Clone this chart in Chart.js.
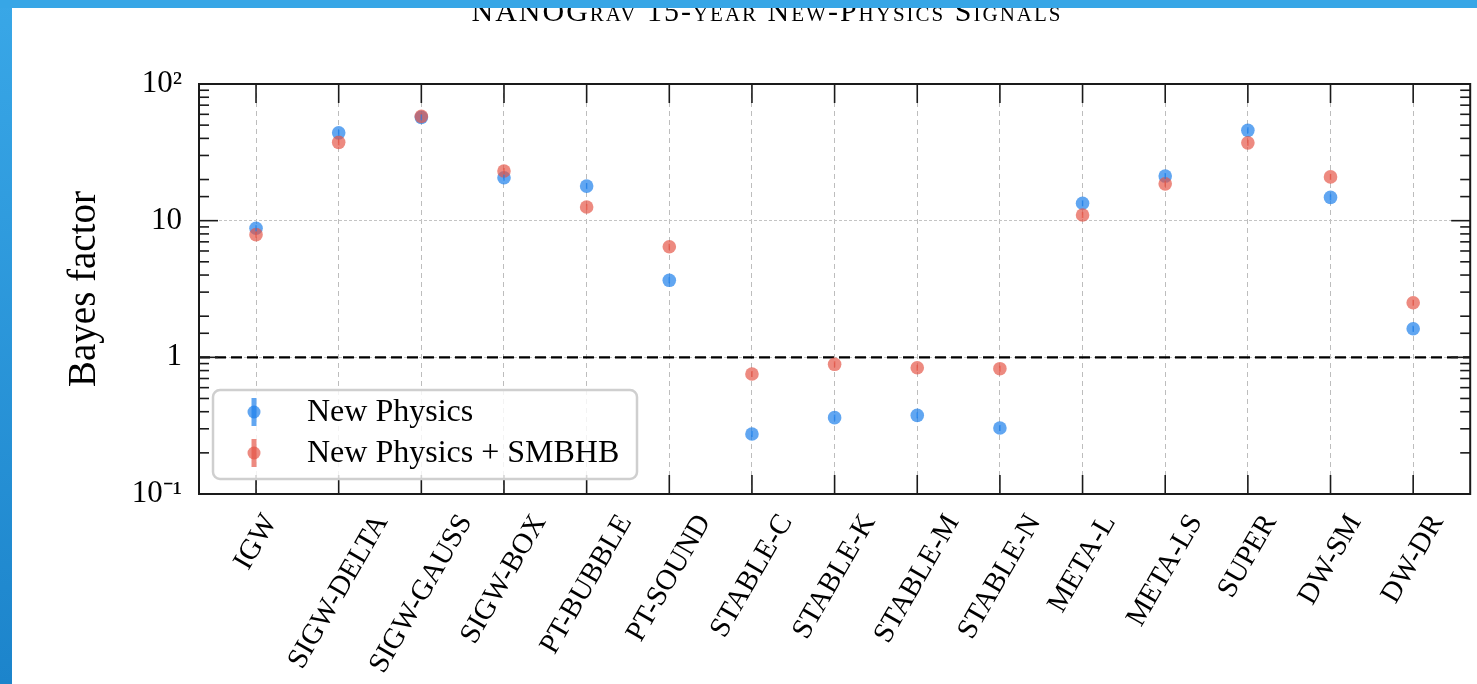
<!DOCTYPE html>
<html>
<head>
<meta charset="utf-8">
<title>NANOGrav 15-year New-Physics Signals</title>
<script src="https://cdn.jsdelivr.net/npm/chart.js@4.4.0/dist/chart.umd.min.js"></script>
<style>
  html, body { margin: 0; padding: 0; }
  body { width: 1477px; height: 684px; position: relative; overflow: hidden; background: #fff; }
  #wrap { position: absolute; left: 0; top: 0; width: 1477px; height: 684px; }
  #title {
    position: absolute; left: 767px; top: -4px; transform: translateX(-50%);
    font-family: "Liberation Serif", serif; font-size: 30px; line-height: 30px; letter-spacing: 2px;
    font-variant: small-caps; white-space: nowrap; color: #000;
  }
  #side { position: absolute; left: 0; top: 0; width: 12px; height: 684px; background: linear-gradient(#39a7e7, #1c84cb); }
  #topbar { position: absolute; left: 0; top: 0; width: 1477px; height: 8px; background: #37a6e6; }
</style>
</head>
<body>
<div id="wrap"><canvas id="bf"></canvas></div>
<div id="title">NANOGrav 15-year New-Physics Signals</div>
<div id="side"></div>
<div id="topbar"></div>
<script>
// signal models along the x axis
const categories = ['IGW', 'SIGW-DELTA', 'SIGW-GAUSS', 'SIGW-BOX', 'PT-BUBBLE', 'PT-SOUND',
  'STABLE-C', 'STABLE-K', 'STABLE-M', 'STABLE-N', 'META-L', 'META-LS', 'SUPER', 'DW-SM', 'DW-DR'];

// Bayes factors
const newPhysics      = [8.8, 43.9, 57, 20.6, 17.9, 3.66, 0.275, 0.362, 0.376, 0.304, 13.4, 21.2, 45.8, 14.8, 1.62];
const newPhysicsSmbhb = [7.9, 37.4, 58, 23.1, 12.6, 6.44, 0.755, 0.889, 0.839, 0.826, 11.0, 18.6, 37.1, 20.9, 2.51];

// labels for the decades on the log axis
const yTickLabels = { '-1': '10\u207B\u00B9', '0': '1', '1': '10', '2': '10\u00B2' };
const threshold = 1;

const BLUE = 'rgba(30, 128, 235, 0.7)';
const RED = 'rgba(228, 82, 68, 0.68)';
const xMin = -0.69;
const xMax = categories.length - 1 + 0.69;
const SERIF = '"Liberation Serif", serif';

const isDecade = v => Math.abs(Math.log10(v) - Math.round(Math.log10(v))) < 1e-6;
const toPoints = vals => vals.map((v, i) => ({ x: i, y: v }));

Chart.defaults.font.family = SERIF;
Chart.defaults.color = '#000';

function seg(ctx, x1, y1, x2, y2) {
  ctx.beginPath(); ctx.moveTo(x1, y1); ctx.lineTo(x2, y2); ctx.stroke();
}

const legendItems = [
  { text: 'New Physics', color: BLUE },
  { text: 'New Physics + SMBHB', color: RED }
];

const framePlugin = {
  id: 'frame',
  afterDatasetsDraw(chart) {
    const { ctx, chartArea: a, scales: { x, y } } = chart;
    ctx.save();

    // short error bars through the markers
    [0, 1].forEach(i => {
      const ds = chart.data.datasets[i];
      ctx.strokeStyle = ds.backgroundColor;
      ctx.lineWidth = 1.5;
      chart.getDatasetMeta(i).data.forEach(p => seg(ctx, p.x, p.y - 3, p.x, p.y + 3));
    });

    // inward ticks on all four sides
    ctx.strokeStyle = '#1a1a1a';
    ctx.lineWidth = 1.6;
    x.ticks.forEach(t => {
      const px = x.getPixelForValue(t.value);
      seg(ctx, px, a.top, px, a.top + 19);
      seg(ctx, px, a.bottom, px, a.bottom - 19);
    });
    y.ticks.forEach(t => {
      const py = y.getPixelForValue(t.value);
      const len = isDecade(t.value) ? 19 : 10;
      seg(ctx, a.left, py, a.left + len, py);
      seg(ctx, a.right, py, a.right - len, py);
    });
    ctx.lineWidth = 2;
    ctx.strokeRect(a.left, a.top, a.right - a.left, a.bottom - a.top);

    // category labels, rotated 60 deg, box centred under each tick
    const fs = 29, ang = Math.PI / 3;
    ctx.font = fs + 'px ' + SERIF;
    ctx.fillStyle = '#000';
    ctx.textAlign = 'center';
    ctx.textBaseline = 'middle';
    x.ticks.forEach(t => {
      const label = categories[Math.round(t.value)];
      const w = ctx.measureText(label).width;
      const boxH = w * Math.sin(ang) + fs * Math.cos(ang);
      ctx.save();
      ctx.translate(x.getPixelForValue(t.value), a.bottom + 16 + boxH / 2);
      ctx.rotate(-ang);
      ctx.fillText(label, 0, 0);
      ctx.restore();
    });

    // legend box
    const bx = a.left + 14, by = a.bottom - 104, bw = 424, bh = 89, r = 7;
    ctx.beginPath();
    ctx.moveTo(bx + r, by);
    ctx.arcTo(bx + bw, by, bx + bw, by + bh, r);
    ctx.arcTo(bx + bw, by + bh, bx, by + bh, r);
    ctx.arcTo(bx, by + bh, bx, by, r);
    ctx.arcTo(bx, by, bx + bw, by, r);
    ctx.closePath();
    ctx.fillStyle = 'rgba(255,255,255,0.82)';
    ctx.fill();
    ctx.strokeStyle = '#cfcfcf';
    ctx.lineWidth = 2.5;
    ctx.stroke();

    ctx.font = '32px ' + SERIF;
    ctx.textBaseline = 'middle';
    ctx.textAlign = 'left';
    legendItems.forEach((it, k) => {
      const mx = a.left + 55, my = by + 22 + k * 41;
      ctx.strokeStyle = it.color;
      ctx.lineWidth = 5;
      seg(ctx, mx, my - 14, mx, my + 14);
      ctx.fillStyle = it.color;
      ctx.beginPath(); ctx.arc(mx, my, 6.5, 0, Math.PI * 2); ctx.fill();
      ctx.fillStyle = '#000';
      ctx.fillText(it.text, a.left + 108, my + 1);
    });
    ctx.restore();
  }
};

new Chart(document.getElementById('bf'), {
  type: 'scatter',
  data: {
    datasets: [
      { label: 'New Physics + SMBHB', data: toPoints(newPhysicsSmbhb), backgroundColor: RED,
        borderWidth: 0, pointRadius: 6.8, pointHoverRadius: 6.8, order: 0 },
      { label: 'New Physics', data: toPoints(newPhysics), backgroundColor: BLUE,
        borderWidth: 0, pointRadius: 6.8, pointHoverRadius: 6.8, order: 1 },
      { type: 'line', label: 'threshold', data: [{ x: xMin, y: threshold }, { x: xMax, y: threshold }],
        borderColor: '#000', borderWidth: 2.2, borderDash: [11, 5], pointRadius: 0, order: 2 }
    ]
  },
  options: {
    responsive: true,
    maintainAspectRatio: false,
    animation: false,
    events: [],
    layout: { padding: { top: 84, right: 4, left: 0, bottom: 0 } },
    plugins: { legend: { display: false }, tooltip: { enabled: false } },
    scales: {
      x: {
        type: 'linear', min: xMin, max: xMax,
        afterBuildTicks: s => { s.ticks = categories.map((_, i) => ({ value: i })); },
        afterFit: s => { s.height = 190; },
        grid: { color: '#bdbdbd', lineWidth: 1, drawTicks: false },
        border: { display: false, dash: [5, 4] },
        ticks: { display: false }
      },
      y: {
        type: 'logarithmic', min: 0.1, max: 100,
        afterFit: s => { s.width = 199; },
        grid: {
          drawTicks: false, lineWidth: 1,
          color: c => (c.tick && isDecade(c.tick.value)) ? '#c4c4c4' : 'rgba(0,0,0,0)'
        },
        border: { display: false, dash: [3, 2] },
        ticks: {
          autoSkip: false, padding: 17, font: { size: 31 },
          callback: v => isDecade(v) ? yTickLabels[Math.round(Math.log10(v))] : ''
        },
        title: { display: true, text: 'Bayes factor', font: { size: 39 }, padding: { top: 61, bottom: 0 } }
      }
    }
  },
  plugins: [framePlugin]
});
</script>
</body>
</html>
